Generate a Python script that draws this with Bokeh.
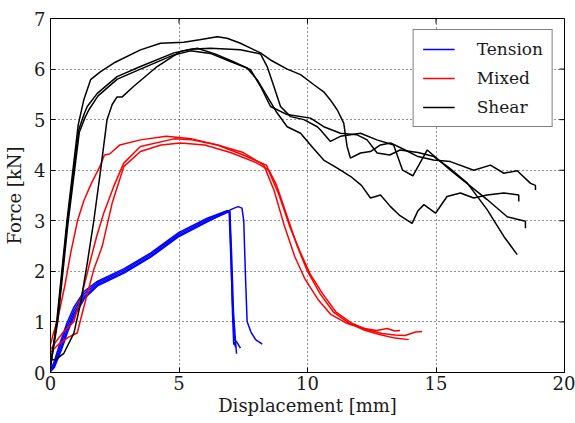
import math
from bokeh.plotting import figure
from bokeh.models import FixedTicker, Range1d, Legend, LegendItem
from bokeh.embed import file_html
from bokeh.resources import INLINE

# ---------------- data ----------------
x_ticks = [0, 5, 10, 15, 20]
y_ticks = [0, 1, 2, 3, 4, 5, 6, 7]
x_lim = (0, 20)
y_lim = (0, 7)

# Tension (blue)
t1_x = [0, 0.12, 0.38, 0.64, 0.9, 1.3, 1.82, 2.85, 3.89, 5.0, 6.1, 6.87, 6.97, 7.02, 7.08, 7.13, 7.15, 7.2]
t1_y = [0.05, 0.18, 0.6, 0.98, 1.28, 1.6, 1.8, 2.05, 2.36, 2.77, 3.05, 3.2, 3.2, 2.4, 1.2, 0.55, 0.6, 0.5]
t2_x = [0, 0.13, 0.39, 0.65, 0.91, 1.3, 1.82, 2.85, 3.89, 5.0, 6.1, 6.9, 6.98, 7.05, 7.12, 7.2, 7.24]
t2_y = [0.05, 0.15, 0.55, 0.92, 1.22, 1.55, 1.77, 2.02, 2.33, 2.74, 3.02, 3.2, 3.18, 2.3, 1.2, 0.6, 0.37]
t3_x = [0, 0.14, 0.4, 0.66, 0.92, 1.31, 1.83, 2.86, 3.9, 5.0, 6.1, 6.85, 6.95, 7.0, 7.08, 7.15, 7.25, 7.39]
t3_y = [0.05, 0.12, 0.48, 0.86, 1.17, 1.5, 1.74, 1.99, 2.3, 2.71, 2.99, 3.16, 3.18, 2.5, 1.4, 0.65, 0.6, 0.48]
t4_x = [0, 0.15, 0.42, 0.68, 0.94, 1.33, 1.85, 2.88, 3.9, 5.0, 6.1, 6.87, 7.1, 7.3, 7.45, 7.52, 7.58, 7.65, 7.8, 7.98, 8.24]
t4_y = [0.02, 0.1, 0.44, 0.82, 1.13, 1.47, 1.72, 1.97, 2.28, 2.69, 2.98, 3.18, 3.24, 3.28, 3.25, 3.0, 2.0, 1.01, 0.8, 0.65, 0.56]

# Mixed (red)
m1_x = [0, 0.1, 0.3, 0.55, 0.8, 1.05, 1.3, 1.6, 1.9, 2.1, 2.3, 2.7, 3.5, 4.5, 5.5, 6.5, 7.5, 8.3, 8.7, 9.1, 9.5, 9.9, 10.4, 10.9, 11.5, 12.1, 12.7, 13.1, 13.4, 13.6]
m1_y = [0.55, 0.75, 1.1, 1.7, 2.4, 3.0, 3.4, 3.75, 4.05, 4.3, 4.32, 4.5, 4.6, 4.67, 4.62, 4.5, 4.35, 4.1, 3.6, 2.9, 2.3, 1.85, 1.45, 1.15, 0.98, 0.88, 0.83, 0.87, 0.82, 0.83]
m2_x = [0, 0.2, 0.5, 0.9, 1.2, 1.56, 1.8, 2.07, 2.46, 2.85, 3.5, 4.8, 5.5, 6.5, 7.5, 8.4, 8.9, 9.3, 9.7, 10.1, 10.6, 11.1, 11.7, 12.3, 12.9, 13.4, 13.8, 14.2, 14.46]
m2_y = [0.45, 0.6, 0.8, 1.0, 1.5, 2.23, 2.7, 3.15, 3.68, 4.14, 4.47, 4.62, 4.6, 4.5, 4.3, 4.1, 3.5, 2.9, 2.4, 1.95, 1.55, 1.2, 0.98, 0.85, 0.77, 0.74, 0.73, 0.8, 0.81]
m3_x = [0, 0.3, 0.7, 1.04, 1.3, 1.68, 2.01, 2.4, 2.85, 3.5, 4.3, 5.06, 6.0, 7.0, 8.0, 8.5, 8.8, 9.2, 9.6, 10.0, 10.5, 11.0, 11.6, 12.2, 12.8, 13.4, 13.94]
m3_y = [0.4, 0.55, 0.7, 0.78, 1.3, 2.03, 2.49, 3.35, 4.07, 4.37, 4.5, 4.54, 4.5, 4.35, 4.15, 4.0, 3.7, 3.1, 2.5, 2.0, 1.55, 1.2, 0.98, 0.84, 0.75, 0.68, 0.65]

# Shear (black)
s1_x = [0, 0.25, 0.64, 1.08, 1.3, 1.56, 1.95, 2.46, 3.5, 4.28, 5.19, 5.8, 6.49, 6.87, 7.39, 8.17, 8.56, 9.21, 9.73, 10.25, 10.63, 10.89, 11.16, 11.41, 11.54, 11.67, 12.06, 12.45, 12.84, 13.23, 13.8, 14.3, 14.9, 15.56, 16.47, 17.12, 17.64, 18.16, 18.68, 18.87, 18.87]
s1_y = [0.1, 1.05, 3.0, 4.9, 5.4, 5.79, 5.95, 6.12, 6.38, 6.51, 6.53, 6.58, 6.64, 6.61, 6.51, 6.32, 6.18, 6.0, 5.89, 5.69, 5.55, 5.39, 5.19, 4.93, 4.47, 4.24, 4.34, 4.37, 4.5, 4.54, 4.4, 4.27, 4.2, 4.17, 4.0, 4.1, 3.94, 3.99, 3.74, 3.7, 3.61]
s2_x = [0, 0.27, 0.66, 1.1, 1.3, 1.43, 1.82, 2.59, 3.5, 4.8, 5.45, 6.22, 7.39, 8.17, 8.43, 8.69, 8.95, 9.34, 9.86, 10.38, 10.5, 10.89, 11.28, 12.06, 12.7, 13.35, 13.7, 14.1, 14.66, 15.56, 16.3, 16.99, 17.77, 18.48, 18.48]
s2_y = [0.15, 1.05, 3.0, 4.8, 5.1, 5.26, 5.52, 5.85, 6.05, 6.32, 6.39, 6.41, 6.38, 6.3, 6.05, 5.66, 5.26, 5.06, 5.0, 4.86, 4.8, 4.57, 4.67, 4.73, 4.6, 4.5, 4.0, 3.89, 4.4, 4.0, 3.7, 3.42, 3.08, 2.99, 2.85]
s3_x = [0, 0.28, 0.68, 1.12, 1.35, 1.5, 1.85, 2.6, 3.5, 4.8, 5.45, 6.22, 7.0, 7.65, 8.04, 8.43, 8.82, 9.21, 9.73, 10.2, 10.63, 11.16, 11.67, 12.1, 12.45, 12.84, 13.23, 13.6, 14.07, 14.3, 14.53, 14.98, 15.43, 15.95, 16.47, 16.99, 17.64, 18.22, 18.22]
s3_y = [0.12, 1.0, 2.95, 4.75, 5.05, 5.2, 5.47, 5.8, 6.0, 6.28, 6.36, 6.31, 6.15, 6.02, 5.79, 5.46, 5.13, 4.86, 4.73, 4.45, 4.2, 4.04, 3.88, 3.7, 3.45, 3.51, 3.28, 3.1, 2.95, 3.2, 3.32, 3.15, 3.48, 3.55, 3.45, 3.51, 3.55, 3.51, 3.38]
s4_x = [0, 0.19, 0.52, 0.91, 1.17, 1.43, 1.69, 1.95, 2.2, 2.4, 2.59, 2.79, 3.24, 4.15, 5.06, 5.71, 6.4, 7.1, 7.78, 8.17, 8.56, 9.21, 10.12, 10.63, 11.28, 11.93, 12.32, 12.71, 13.2, 13.6, 14.3, 14.92, 15.5, 16.21, 16.99, 17.64, 18.16]
s4_y = [0.25, 0.25, 0.38, 0.78, 1.37, 2.16, 3.02, 4.0, 5.0, 5.3, 5.45, 5.45, 5.66, 6.05, 6.35, 6.41, 6.3, 6.15, 5.99, 5.66, 5.26, 5.1, 5.03, 4.86, 4.73, 4.7, 4.6, 4.34, 4.3, 4.4, 4.35, 4.27, 4.05, 3.75, 3.22, 2.69, 2.33]

groups = [
    ("Tension", "#0000ff", [(t1_x, t1_y), (t2_x, t2_y), (t3_x, t3_y), (t4_x, t4_y)]),
    ("Mixed", "#ff0000", [(m1_x, m1_y), (m2_x, m2_y), (m3_x, m3_y)]),
    ("Shear", "#000000", [(s1_x, s1_y), (s2_x, s2_y), (s3_x, s3_y), (s4_x, s4_y)]),
]

FONT = "DejaVu Serif"
FS = "18px"

p = figure(width=575, height=423, output_backend="svg", toolbar_location=None,
           x_range=Range1d(*x_lim), y_range=Range1d(*y_lim),
           min_border_left=50, min_border_right=11, min_border_top=18, min_border_bottom=51,
           x_axis_label="Displacement [mm]", y_axis_label="Force [kN]")
p.outline_line_color = "black"
p.outline_line_width = 1
p.background_fill_color = "white"
p.border_fill_color = "white"

for ax, ticks in ((p.xaxis[0], x_ticks), (p.yaxis[0], y_ticks)):
    ax.ticker = FixedTicker(ticks=ticks)
    ax.major_tick_in = 5
    ax.major_tick_out = 0
    ax.minor_tick_in = 0
    ax.minor_tick_out = 0
    ax.axis_line_color = "black"
    ax.major_tick_line_color = "black"
    ax.major_label_text_font = FONT
    ax.major_label_text_font_size = FS
    ax.major_label_text_color = "#1a1a1a"
    ax.axis_label_text_font = FONT
    ax.axis_label_text_font_size = FS
    ax.axis_label_text_font_style = "normal"
    ax.axis_label_text_color = "#1a1a1a"
p.xaxis.major_label_standoff = 3
p.yaxis.major_label_standoff = 5
p.xaxis.axis_label_standoff = 2
p.yaxis.axis_label_standoff = 6

# inward ticks on the top and right edges of the frame
p.ray(x=x_ticks, y=[y_lim[1]] * len(x_ticks), length=5, length_units="screen",
      angle=-math.pi / 2, line_color="black", line_width=1)
p.ray(x=[x_lim[1]] * len(y_ticks), y=y_ticks, length=5, length_units="screen",
      angle=math.pi, line_color="black", line_width=1)

p.xgrid.ticker = FixedTicker(ticks=x_ticks)
p.ygrid.ticker = FixedTicker(ticks=y_ticks)
for g in (p.xgrid[0], p.ygrid[0]):
    g.grid_line_color = "black"
    g.grid_line_dash = "1 3"
    g.grid_line_width = 1
    g.grid_line_alpha = 0.85

items = []
for label, color, curves in groups:
    rs = []
    for cx, cy in curves:
        r = p.line(cx, cy, line_color=color, line_width=1.5)
        rs.append(r)
    items.append(LegendItem(label=label, renderers=[rs[0]]))

legend = Legend(items=items, location="top_right")
legend.label_text_font = FONT
legend.label_text_font_size = "17px"
legend.label_text_color = "#1a1a1a"
legend.border_line_color = "black"
legend.border_line_width = 1
legend.background_fill_color = "white"
legend.background_fill_alpha = 1
legend.padding = 9
legend.spacing = 9
legend.margin = 11
legend.glyph_width = 32
legend.glyph_height = 20
legend.label_height = 20
legend.label_standoff = 22
p.add_layout(legend, "center")

open("out.html", "w").write(file_html(p, INLINE))
